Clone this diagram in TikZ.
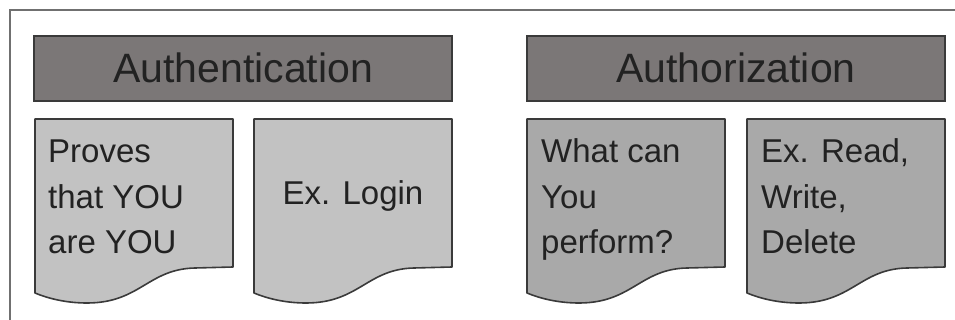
\documentclass[tikz,border=0pt]{standalone}
\usepackage{fontspec}
\setmainfont{Liberation Sans}
\definecolor{hdrfill}{HTML}{7B7777}
\definecolor{docA}{HTML}{C2C2C2}
\definecolor{docB}{HTML}{A9A9A9}
\definecolor{edge}{HTML}{3A3A3A}
\definecolor{txt}{HTML}{222222}
\definecolor{frame}{HTML}{707070}
\tikzset{
  hdr/.style={draw=edge, line width=1.6pt, fill=hdrfill},
  hdrtext/.style={text=txt, font=\fontsize{41}{48}\selectfont, inner sep=0pt, anchor=base},
  doctext/.style={text=txt, font=\fontsize{33}{45.5}\selectfont, inner sep=0pt, align=left, anchor=base west},
  docshape/.style={draw=edge, line width=1.6pt, line join=round},
}
\newcommand{\docpath}[3]{% x0, x1, fill
  \path[docshape, fill=#3] (#1,119) -- (#2,119) -- (#2,267)
    -- (#2-38,268) .. controls (#2-85,269) and (#1+105,303) .. (#1+52,303)
    .. controls (#1+30,303) and (#1+12,298) .. (#1,293) -- cycle;
}
\begin{document}
\begin{tikzpicture}[x=1pt,y=-1pt]
\useasboundingbox (0,0) rectangle (955,320);
\begin{scope}
\clip (0,0) rectangle (955,320);
\draw[frame, line width=1.3pt] (10,400) -- (10,10) -- (1000,10);
\end{scope}
% headers
\draw[hdr] (34,36) rectangle (452,101);
\draw[hdr] (527,36) rectangle (945,101);
\node[hdrtext] (auth) at (243,83) {Authentication};
\node[hdrtext] (authz) at (736,83) {Authorization};
% documents
\docpath{35}{233}{docA}
\docpath{254}{452}{docA}
\docpath{527}{725}{docB}
\docpath{747}{945}{docB}
\node[doctext] (d1) at (48,254) {Proves\\that YOU\\are YOU};
\node[doctext, anchor=base] (d2) at (353,205) {Ex. Login};
\node[doctext] (d3) at (541,254) {What can\\You\\perform?};
\node[doctext] (d4) at (761,254) {Ex. Read,\\Write,\\Delete};
\end{tikzpicture}
\end{document}
